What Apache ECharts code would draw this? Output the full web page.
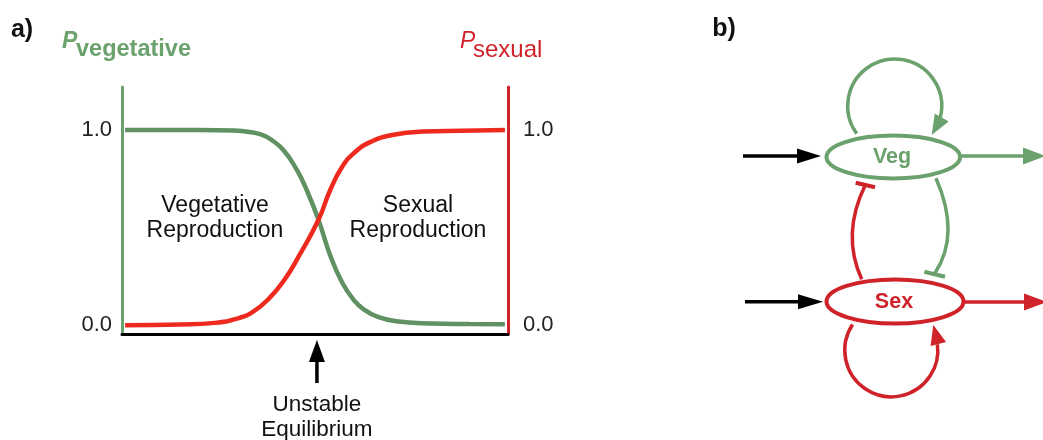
<!DOCTYPE html>
<html>
<head>
<meta charset="utf-8">
<script src="https://cdn.jsdelivr.net/npm/echarts@6/dist/echarts.min.js"></script>
<style>
  html, body { margin: 0; padding: 0; background: #fff; }
  #chart { width: 1043px; height: 440px; }
</style>
</head>
<body>
<div id="chart"></div>
<script>
// environmental cue (arbitrary units, 0..100) and response probabilities
const vegX = [0.8, 20, 29, 33, 36, 38.3, 41.8, 45.3, 47.9, 50.9, 53.9, 57, 60, 62.7, 66, 71, 80, 90, 99.2]
const pVeg = [1.0, 1.0, 0.997, 0.99, 0.977, 0.955, 0.897, 0.795, 0.69, 0.54, 0.36, 0.22, 0.13, 0.08, 0.045, 0.02, 0.009, 0.006, 0.005]
const sexX = [0.8, 15, 24, 30, 34, 38, 42, 46, 50.9, 54, 57, 60, 64, 70, 78, 88, 99.2]
const pSex = [0.0, 0.004, 0.012, 0.035, 0.07, 0.135, 0.23, 0.36, 0.54, 0.695, 0.81, 0.88, 0.935, 0.974, 0.992, 0.996, 1.0]
const yTicks = [0, 1]
const eqX = 50.5

const GREEN = '#6aa16c'
const GREEN_LINE = '#5f9163'
const RED = '#cf2229'
const RED_LINE = '#ee2a1f'
const FONT = 'Liberation Sans'

const chart = echarts.init(document.getElementById('chart'))

function head(bx, by, tx, ty, hw, color) {
  const dx = tx - bx, dy = ty - by, L = Math.hypot(dx, dy)
  const nx = -dy / L * hw, ny = dx / L * hw
  return { type: 'polygon', silent: true, z: 20,
    shape: { points: [[tx, ty], [bx + nx, by + ny], [bx - nx, by - ny]] },
    style: { fill: color } }
}
function seg(x1, y1, x2, y2, color, w) {
  return { type: 'line', silent: true, z: 10,
    shape: { x1: x1, y1: y1, x2: x2, y2: y2 },
    style: { stroke: color, lineWidth: w || 3.5 } }
}
function txt(x, y, text, size, color, extra) {
  return { type: 'text', silent: true, z: 30, x: x, y: y,
    style: Object.assign({ text: text, fontSize: size, fill: color, fontFamily: FONT,
      align: 'center', verticalAlign: 'middle' }, extra || {}) }
}
const deg = Math.PI / 180

let option = {
  animation: false,
  grid: { left: 122, right: 535, top: 87, bottom: 106 },
  xAxis: {
    type: 'value', min: 0, max: 100,
    axisLine: { onZero: false, lineStyle: { color: '#000', width: 3 } },
    axisTick: { show: false }, axisLabel: { show: false }, splitLine: { show: false }
  },
  yAxis: [
    {
      type: 'value', min: -0.045, max: 1.22, position: 'left',
      axisLine: { show: true, lineStyle: { color: GREEN, width: 3 } },
      axisTick: { show: false }, splitLine: { show: false },
      axisLabel: { customValues: yTicks, formatter: v => v.toFixed(1), color: '#222',
        fontSize: 22, fontFamily: FONT, margin: 10 }
    },
    {
      type: 'value', min: -0.045, max: 1.22, position: 'right',
      axisLine: { show: true, lineStyle: { color: RED, width: 3 } },
      axisTick: { show: false }, splitLine: { show: false },
      axisLabel: { customValues: yTicks, formatter: v => v.toFixed(1), color: '#222',
        fontSize: 22, fontFamily: FONT, margin: 15 }
    }
  ],
  series: [
    {
      type: 'line', yAxisIndex: 0, data: vegX.map((x, i) => [x, pVeg[i]]),
      smooth: 0.5, symbol: 'none',
      lineStyle: { color: GREEN_LINE, width: 4.5 }
    },
    {
      type: 'line', yAxisIndex: 1, data: sexX.map((x, i) => [x, pSex[i]]),
      smooth: 0.5, symbol: 'none',
      lineStyle: { color: RED_LINE, width: 4.5 }
    }
  ]
}
chart.setOption(option)

// equilibrium arrow position from the axis scale
const ex = chart.convertToPixel({ xAxisIndex: 0 }, eqX)

const g = []
// panel a texts
g.push(txt(22, 30, 'a)', 25, '#111', { fontWeight: 'bold' }))
g.push(txt(62, 42, 'P', 23, GREEN, { align: 'left', fontStyle: 'italic', fontWeight: 'bold' }))
g.push(txt(76, 50, 'vegetative', 23.5, GREEN, { align: 'left', fontWeight: 'bold' }))
g.push(txt(460, 42, 'P', 23, RED, { align: 'left', fontStyle: 'italic' }))
g.push(txt(473, 50, 'sexual', 24, RED, { align: 'left' }))
g.push(txt(215, 218, 'Vegetative\nReproduction', 23, '#111', { lineHeight: 25 }))
g.push(txt(418, 218, 'Sexual\nReproduction', 23, '#111', { lineHeight: 25 }))
g.push(txt(ex, 417, 'Unstable\nEquilibrium', 22.5, '#111', { lineHeight: 25 }))
g.push(seg(ex, 383, ex, 360, '#000', 3.5))
g.push(head(ex, 362, ex, 340, 8, '#000'))

// panel b
g.push(txt(724, 29, 'b)', 25, '#111', { fontWeight: 'bold' }))
// self loops
g.push({ type: 'arc', silent: true, z: 10,
  shape: { cx: 894.7, cy: 106, r: 47, startAngle: 144 * deg, endAngle: 373.7 * deg, clockwise: true },
  style: { stroke: GREEN, lineWidth: 3.5, fill: null } })
g.push({ type: 'arc', silent: true, z: 10,
  shape: { cx: 891.3, cy: 350.3, r: 46.5, startAngle: 213.6 * deg, endAngle: -7.6 * deg, clockwise: false },
  style: { stroke: RED, lineWidth: 3.5, fill: null } })
// inhibition arcs
g.push({ type: 'bezierCurve', silent: true, z: 10,
  shape: { x1: 861.7, y1: 279.3, cpx1: 841.1, cpy1: 234.4, x2: 865.3, y2: 185 },
  style: { stroke: RED, lineWidth: 3.5, fill: null } })
g.push(seg(855.7, 182.7, 875, 187.3, RED, 4))
g.push({ type: 'bezierCurve', silent: true, z: 10,
  shape: { x1: 936, y1: 178.3, cpx1: 960.6, cpy1: 234.4, x2: 935, y2: 273 },
  style: { stroke: GREEN, lineWidth: 3.5, fill: null } })
g.push(seg(924.3, 271.7, 945, 276.7, GREEN, 4))
// nodes
g.push({ type: 'ellipse', silent: true, z: 15,
  shape: { cx: 893.3, cy: 157, rx: 66.8, ry: 21.5 },
  style: { fill: '#fff', stroke: GREEN, lineWidth: 4 } })
g.push({ type: 'ellipse', silent: true, z: 15,
  shape: { cx: 895, cy: 301.5, rx: 68.5, ry: 22 },
  style: { fill: '#fff', stroke: RED, lineWidth: 4 } })
g.push(txt(892, 157, 'Veg', 21.5, GREEN, { fontWeight: 'bold' }))
g.push(txt(894, 302, 'Sex', 21.5, RED, { fontWeight: 'bold' }))
// loop arrowheads
g.push(head(941.7, 117.5, 931.7, 135, 8, GREEN))
g.push(head(938.3, 344, 933.3, 325, 8, RED))
// input arrows
g.push(seg(743, 156, 800, 156, '#000', 3.5))
g.push(head(797, 156, 821, 156, 7.5, '#000'))
g.push(seg(745, 301.7, 801, 301.7, '#000', 3.5))
g.push(head(798, 301.7, 823, 301.7, 7.5, '#000'))
// output arrows
g.push(seg(961.7, 156, 1026, 156, GREEN, 3.5))
g.push(head(1023, 156, 1046, 156, 8.5, GREEN))
g.push(seg(963.5, 302, 1027, 302, RED, 3.5))
g.push(head(1024, 302, 1047, 302, 8.5, RED))

chart.setOption({ graphic: { elements: g } })
</script>
</body>
</html>
